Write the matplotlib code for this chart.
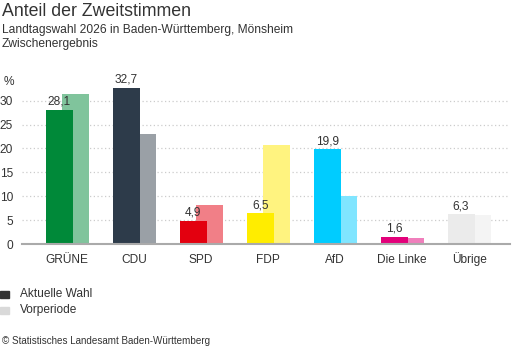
import matplotlib.pyplot as plt
from matplotlib.patches import Rectangle
import numpy as np

plt.rcParams['font.family'] = ['Liberation Sans', 'DejaVu Sans']

parteien = ['GRÜNE', 'CDU', 'SPD', 'FDP', 'AfD', 'Die Linke', 'Übrige']
aktuell = [28.1, 32.7, 4.9, 6.5, 19.9, 1.6, 6.3]
vorperiode = [31.3, 23.0, 8.1, 20.7, 10.1, 1.3, 6.1]
farben_akt = ['#008939', '#2d3b4a', '#e3000f', '#ffed00', '#00ccff', '#e3007a', '#ebebeb']
farben_vor = ['#80c49c', '#9aa0a6', '#f17f87', '#fff37f', '#80e5ff', '#f07fbc', '#f4f4f4']
yticks = [0, 5, 10, 15, 20, 25, 30]

W, H = 513, 352
fig = plt.figure(figsize=(W / 100, H / 100), dpi=100)

# Achse in Pixeln positionieren
x0, x1 = 22, 510
y_base, y_top = 244.3, 81.4
ax = fig.add_axes([x0 / W, 1 - y_base / H, (x1 - x0) / W, (y_base - y_top) / H])

x = np.arange(len(parteien))
breite = 0.403
versatz = 0.239

ax.bar(x + versatz, vorperiode, width=breite, color=farben_vor, zorder=2)
ax.bar(x, aktuell, width=breite, color=farben_akt, zorder=3)

for xi, v in zip(x, aktuell):
    ax.text(xi, v + 0.4, f'{v:.1f}'.replace('.', ','), ha='center', va='bottom',
            fontsize=8.6, color='#333333', zorder=4)

ax.set_xlim(-0.555, 6.73)
ax.set_ylim(0, 34)
ax.set_yticks(yticks)
ax.set_yticklabels([str(t) for t in yticks], fontsize=8.6, color='#333333')
ax.set_xticks(x + versatz / 2)
ax.set_xticklabels(parteien, fontsize=8.6, color='#333333', va='baseline')
ax.tick_params(axis='both', length=0)
ax.tick_params(axis='y', pad=6.5)
ax.tick_params(axis='x', pad=13.7)

for t in yticks[1:]:
    ax.axhline(t, color='#cccccc', linestyle=(0, (1, 2)), linewidth=0.9, zorder=1)

for s in ['top', 'right', 'left']:
    ax.spines[s].set_visible(False)
ax.spines['bottom'].set_color('#aaaaaa')
ax.spines['bottom'].set_linewidth(1.5)
ax.spines['bottom'].set_zorder(5)

fig.text(4 / W, 1 - 82 / H, '%', fontsize=8.6, color='#333333', va='center')

fig.text(2 / W, 1 - 12 / H, 'Anteil der Zweitstimmen', fontsize=12.8, color='#333333', va='center')
fig.text(2 / W, 1 - 30 / H, 'Landtagswahl 2026 in Baden-Württemberg, Mönsheim',
         fontsize=8.65, color='#333333', va='center')
fig.text(2 / W, 1 - 44 / H, 'Zwischenergebnis', fontsize=8.65, color='#333333', va='center')

# Legende
fig.patches.append(Rectangle((0, 1 - 298 / H), 9 / W, 7 / H, transform=fig.transFigure,
                             color='#333333'))
fig.patches.append(Rectangle((0, 1 - 314 / H), 9 / W, 7 / H, transform=fig.transFigure,
                             color='#d9d9d9'))
fig.text(20 / W, 1 - 294 / H, 'Aktuelle Wahl', fontsize=8.6, color='#333333', va='center')
fig.text(20 / W, 1 - 310 / H, 'Vorperiode', fontsize=8.6, color='#333333', va='center')

fig.text(2 / W, 1 - 341 / H, '© Statistisches Landesamt Baden-Württemberg',
         fontsize=7.1, color='#333333', va='center')

fig.savefig('out.png', dpi=100)
